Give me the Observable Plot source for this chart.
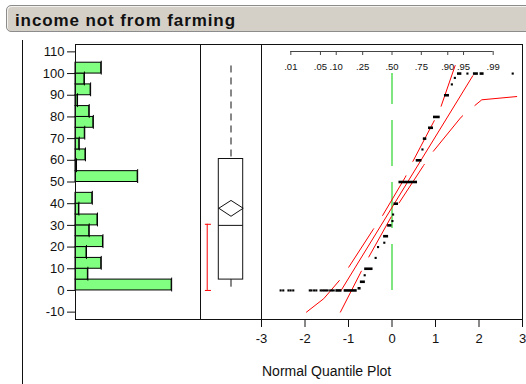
<!DOCTYPE html>
<html><head><meta charset="utf-8">
<script src="https://cdn.jsdelivr.net/npm/d3@7"></script>
<script src="https://cdn.jsdelivr.net/npm/@observablehq/plot@0.6"></script>
<style>
html,body{margin:0;padding:0;background:#fff;}
#root{position:relative;width:526px;height:384px;overflow:hidden;font-family:"Liberation Sans",Arial,sans-serif;background:#fff;}
#title{position:absolute;left:6px;top:5px;width:526px;height:25px;background:#d4d0c8;border:1px solid #8c8c8c;border-radius:5px;box-shadow:inset 1px 1px 0 #f4f2ee;}
#titleText{position:absolute;left:15px;top:11.6px;font-size:17px;line-height:17px;font-weight:bold;letter-spacing:0.9px;color:#111;white-space:nowrap;}
#outline{position:absolute;left:22px;top:40px;width:1px;height:344px;background:#111;}
.panel{position:absolute;top:40px;}
#xlabel{position:absolute;left:262px;top:364px;font-size:14px;line-height:14px;color:#111;white-space:nowrap;}
</style></head>
<body><div id="root">
<div id="title"></div><div id="titleText">income not from farming</div>
<div id="outline"></div>
<div id="hist" class="panel" style="left:0px"></div>
<div id="box" class="panel" style="left:200px"></div>
<div id="qq" class="panel" style="left:261px"></div>
<div id="xlabel">Normal Quantile Plot</div>
</div>
<script>
// ---------- data ----------
const yDomain = [-13.4, 113.4];
const yTicks = [-10, 0, 10, 20, 30, 40, 50, 60, 70, 80, 90, 100, 110];
const xTicks = [-3, -2, -1, 0, 1, 2, 3];
const probLabels = [".01", ".05", ".10", ".25", ".50", ".75", ".90", ".95", ".99"];
const probZ = [-2.326, -1.645, -1.282, -0.674, 0, 0.674, 1.282, 1.645, 2.326];

const binWidth = 5;
const binLo = [0, 5, 10, 15, 20, 25, 30, 35, 40, 45, 50, 55, 60, 65, 70, 75, 80, 85, 90, 95, 100];
const binCount = [28.0, 3.6, 7.5, 3.2, 8.0, 4.0, 6.4, 1.0, 4.9, 0, 18.1, 0.3, 2.9, 1.1, 2.7, 5.2, 4.0, 0.6, 4.4, 2.6, 7.5];
const histMax = 36.4;

// box plot summary
const boxMin = 1.5, boxQ1 = 5, boxMedian = 30, boxQ3 = 60.6, boxMax = 103.5;
const meanValue = 37.9, meanLo = 34.2, meanHi = 41.5;
const shortestHalf = [0, 30.5];

// quantile plot: tied runs and single points (normal quantile, value)
const runV  = [100, 100, 100, 90, 80, 75, 70, 60, 50, 40, 30, 25, 10, 4, 1, 0, 0];
const runQ1 = [1.505, 1.872, 2.025, 1.206, 0.954, 0.840, 0.720, 0.557, 0.160, 0.045, -0.100, -0.193, -0.628, -0.727, -0.780, -1.290, -1.100];
const runQ2 = [1.606, 1.986, 2.117, 1.321, 1.108, 0.954, 0.800, 0.688, 0.587, 0.150, 0.000, -0.078, -0.436, -0.612, -0.711, -1.150, -0.800];
const dotV = [100, 100, 98, 95, 65, 35, 32, 22, 20, 15, 7,
              0, 0, 0, 0, 0, 0, 0, 0, 0, 0, 0, 0, 0, 0, 0, 0, 0];
const dotQ = [1.734, 2.775, 1.445, 1.376, 0.700, 0.025, 0.010, -0.177, -0.321, -0.376, -0.628,
              -2.56, -2.50, -2.38, -2.33, -2.27, -1.89, -1.85, -1.79, -1.74, -1.64, -1.60, -1.56, -1.52, -1.48, -1.42, -1.38, -1.34];

// fitted normal line and confidence bands
const centerQ = [-1.170, 1.858];
const centerV = [0, 99];
const leftBandQ = [-1.966, -1.569, -1.209, -0.995, -0.436, -0.229, 0.305, 0.459, 0.954, 1.108, 1.452];
const leftBandV = [-10.0, -3.8, 4.6, 10.7, 28.0, 34.1, 52.2, 58.7, 77.6, 83.7, 103.7];
const rightBandQ = [-1.186, -0.704, -0.537, 0.000, 0.151, 0.725, 0.931, 1.589, 1.858, 2.064, 2.867];
const rightBandV = [-10.0, 8.9, 15.3, 34.6, 40.0, 57.6, 63.7, 79.9, 84.5, 87.9, 89.4];
const refQ = 0, refRange = [0, 100];

// ---------- build ----------
const bins = binLo.map((lo, i) => ({lo, hi: lo + binWidth, count: binCount[i]}));
const runs = runV.map((v, i) => ({v, q1: runQ1[i], q2: runQ2[i]}));
const dots = dotV.map((v, i) => ({v, q: dotQ[i]}));
const probs = probLabels.map((label, i) => ({label, z: probZ[i]}));
const center = centerQ.map((q, i) => ({q, v: centerV[i]}));
const leftBand = leftBandQ.map((q, i) => ({q, v: leftBandV[i]}));
const rightBand = rightBandQ.map((q, i) => ({q, v: rightBandV[i]}));

const baseStyle = {background: "transparent", overflow: "visible", fontFamily: "'Liberation Sans', Arial, sans-serif", fontSize: "13px", color: "#111"};
const H = 344, MT = 4, MB = 65;
const RED = "#ff0000", GREEN = "#55dd55";
const BOX_HALF = 0.4;

const hist = Plot.plot({
  width: 200, height: H, marginLeft: 75, marginRight: 0, marginTop: MT, marginBottom: MB,
  style: baseStyle,
  x: {domain: [0, histMax], axis: null},
  y: {domain: yDomain, ticks: yTicks, tickSize: 8, tickPadding: 3, tickFormat: d => String(d), label: null},
  marks: [
    Plot.rectX(bins, {x1: () => 0, x2: "count", y1: "lo", y2: "hi", fill: "#80ff80", stroke: "#000", strokeWidth: 1}),
    Plot.ruleX(bins.filter(d => d.count > 0), {x: "count", y1: "hi", y2: "lo", stroke: "#000", insetTop: -1.5, insetBottom: -1.5}),
    Plot.frame({stroke: "#111"})
  ]
});
document.getElementById("hist").append(hist);

const diamond = [
  {x: -BOX_HALF, y: meanValue}, {x: 0, y: meanHi}, {x: BOX_HALF, y: meanValue}, {x: 0, y: meanLo}, {x: -BOX_HALF, y: meanValue}
];
const box = Plot.plot({
  width: 61, height: H, marginLeft: 0, marginRight: 0, marginTop: MT, marginBottom: MB,
  style: baseStyle,
  x: {domain: [-1, 1], axis: null},
  y: {domain: yDomain, axis: null},
  marks: [
    Plot.frame({stroke: "#111"}),
    Plot.ruleX([0], {y1: () => boxMax, y2: () => boxQ3, stroke: "#111", strokeDasharray: "7,5"}),
    Plot.ruleX([0], {y1: () => boxMin, y2: () => boxQ1, stroke: "#111"}),
    Plot.rect([0], {x1: () => -BOX_HALF, x2: () => BOX_HALF, y1: () => boxQ1, y2: () => boxQ3, fill: "white", stroke: "#111"}),
    Plot.ruleY([boxMedian], {x1: () => -BOX_HALF, x2: () => BOX_HALF, stroke: "#111"}),
    Plot.line(diamond, {x: "x", y: "y", stroke: "#111", strokeWidth: 1}),
    Plot.ruleX([-0.78], {y1: () => shortestHalf[0], y2: () => shortestHalf[1], stroke: RED}),
    Plot.ruleY(shortestHalf, {x1: () => -0.84, x2: () => -0.64, stroke: RED})
  ]
});
document.getElementById("box").append(box);

const qq = Plot.plot({
  width: 261, height: H, marginLeft: 0, marginRight: 0, marginTop: MT, marginBottom: MB,
  style: baseStyle,
  x: {domain: [-3, 3], ticks: xTicks, tickSize: 8, tickPadding: 6, tickFormat: d => String(d), label: null},
  y: {domain: yDomain, axis: null},
  marks: [
    Plot.frame({stroke: "#111"}),
    Plot.ruleY([yDomain[1]], {x1: () => probZ[0], x2: () => probZ[probZ.length - 1], dy: 7, stroke: "#444"}),
    Plot.ruleX(probs, {x: "z", insetTop: 7, insetBottom: 264, stroke: "#444"}),
    Plot.text(probs, {x: "z", frameAnchor: "top", dy: 19, text: "label", fontSize: 9.5, fill: "#111"}),
    Plot.ruleX([refQ], {y1: () => refRange[0], y2: () => refRange[1], stroke: GREEN, strokeWidth: 1.5, strokeDasharray: "46,16"}),
    Plot.line(leftBand, {x: "q", y: "v", stroke: RED, strokeWidth: 1, strokeDasharray: "46,16"}),
    Plot.line(rightBand, {x: "q", y: "v", stroke: RED, strokeWidth: 1, strokeDasharray: "46,16"}),
    Plot.line(center, {x: "q", y: "v", stroke: RED, strokeWidth: 1}),
    Plot.ruleY(runs, {y: "v", x1: "q1", x2: "q2", stroke: "#000", strokeWidth: 2.6}),
    Plot.dot(dots, {x: "q", y: "v", r: 1.2, symbol: "square", fill: "#000", stroke: "none"})
  ]
});
document.getElementById("qq").append(qq);
</script>
</body></html>
